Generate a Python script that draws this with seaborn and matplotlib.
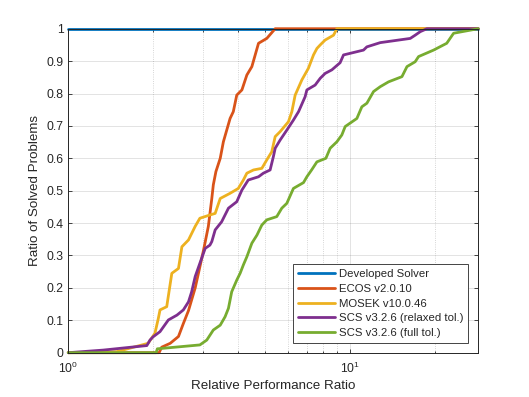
import numpy as np
import pandas as pd
import matplotlib
matplotlib.use("Agg")
import matplotlib.pyplot as plt
import matplotlib.ticker as mticker
import seaborn as sns

# performance profile data
x_max = 28.45

dev_x = [1.0, x_max]
dev_y = [1.0, 1.0]

ecos_x = [1.0, 2.10, 2.145, 2.30, 2.46, 2.56, 2.67, 2.82, 2.93, 3.02, 3.14, 3.23, 3.27,
          3.34, 3.46, 3.55, 3.75, 3.85, 3.96, 4.13, 4.30, 4.48, 4.73, 5.06, 5.42, x_max]
ecos_y = [0.0, 0.0, 0.017, 0.029, 0.05, 0.09, 0.13, 0.20, 0.265, 0.317, 0.39, 0.476, 0.518,
          0.559, 0.60, 0.651, 0.723, 0.744, 0.795, 0.811, 0.857, 0.883, 0.955, 0.97, 1.0, 1.0]

mosek_x = [1.0, 1.485, 1.92, 2.03, 2.087, 2.116, 2.235, 2.33, 2.46, 2.53, 2.67, 2.82, 2.93,
           3.18, 3.32, 3.46, 3.75, 4.01, 4.18, 4.30, 4.54, 4.86, 5.06, 5.27, 5.42, 5.64,
           6.04, 6.21, 6.38, 6.74, 7.11, 7.41, 7.62, 7.83, 8.15, 8.73, 8.97, x_max]
mosek_y = [0.0, 0.003, 0.029, 0.06, 0.106, 0.132, 0.142, 0.245, 0.26, 0.327, 0.348, 0.39, 0.415,
           0.425, 0.43, 0.476, 0.492, 0.507, 0.533, 0.554, 0.564, 0.569, 0.595, 0.62, 0.667, 0.682,
           0.713, 0.744, 0.795, 0.842, 0.878, 0.919, 0.939, 0.95, 0.965, 0.98, 1.0, 1.0]

scs_rel_x = [1.0, 1.33, 1.90, 1.95, 2.00, 2.116, 2.265, 2.43, 2.56, 2.67, 2.74, 2.82, 2.93,
             3.06, 3.18, 3.23, 3.32, 3.50, 3.70, 3.96, 4.13, 4.35, 4.73, 4.92, 5.20, 5.34,
             5.42, 5.64, 5.96, 6.29, 6.56, 6.92, 7.02, 7.51, 7.83, 8.15, 8.61, 9.21, 9.47,
             10.0, 11.15, 11.46, 12.78, 16.33, 17.0, 17.73, 18.72, x_max]
scs_rel_y = [0.0, 0.008, 0.022, 0.039, 0.049, 0.065, 0.101, 0.116, 0.132, 0.157, 0.188, 0.235, 0.276,
             0.322, 0.332, 0.343, 0.379, 0.404, 0.446, 0.466, 0.502, 0.533, 0.543, 0.554, 0.564, 0.605,
             0.631, 0.656, 0.687, 0.718, 0.744, 0.79, 0.811, 0.826, 0.847, 0.862, 0.873, 0.895, 0.919,
             0.924, 0.934, 0.944, 0.957, 0.97, 0.98, 0.991, 1.0, 1.0]

scs_full_x = [1.0, 2.05, 2.07, 2.93, 3.10, 3.27, 3.46, 3.60, 3.70, 3.80, 3.96, 4.07, 4.18,
              4.30, 4.48, 4.67, 4.86, 5.06, 5.49, 5.72, 5.96, 6.29, 6.83, 7.02, 7.31, 7.62,
              8.20, 8.49, 8.97, 9.34, 9.60, 10.56, 11.0, 11.46, 12.1, 12.78, 13.68, 15.26,
              15.9, 17.0, 17.48, 19.76, 22.0, 23.27, x_max]
scs_full_y = [0.0, 0.0, 0.012, 0.024, 0.039, 0.07, 0.085, 0.111, 0.137, 0.188, 0.224, 0.245, 0.271,
              0.296, 0.338, 0.363, 0.394, 0.41, 0.42, 0.446, 0.461, 0.507, 0.525, 0.543, 0.565, 0.589,
              0.60, 0.631, 0.651, 0.672, 0.698, 0.723, 0.759, 0.77, 0.806, 0.821, 0.836, 0.852,
              0.883, 0.898, 0.914, 0.934, 0.955, 0.986, 1.0]

solvers = ["Developed Solver", "ECOS v2.0.10", "MOSEK v10.0.46",
           "SCS v3.2.6 (relaxed tol.)", "SCS v3.2.6 (full tol.)"]
colors = ["#0072BD", "#D95319", "#EDB120", "#7E2F8E", "#77AC30"]
series = [(dev_x, dev_y), (ecos_x, ecos_y), (mosek_x, mosek_y),
          (scs_rel_x, scs_rel_y), (scs_full_x, scs_full_y)]

df = pd.concat([pd.DataFrame({"ratio": sx, "frac": sy, "solver": name})
                for name, (sx, sy) in zip(solvers, series)], ignore_index=True)

sns.set_style("ticks")
plt.rcParams["font.family"] = ["Liberation Sans", "DejaVu Sans"]
plt.rcParams["axes.edgecolor"] = "#262626"
plt.rcParams["xtick.color"] = "#262626"
plt.rcParams["ytick.color"] = "#262626"

fig, ax = plt.subplots(figsize=(5.29, 3.97), dpi=100)
fig.subplots_adjust(left=0.129, right=0.904, bottom=0.1116, top=0.9277)

sns.lineplot(data=df, x="ratio", y="frac", hue="solver", hue_order=solvers,
             palette=dict(zip(solvers, colors)), estimator=None, sort=False,
             lw=2, clip_on=False, ax=ax)

ax.set_xscale("log")
ax.set_xlim(1, x_max)
ax.set_ylim(0, 1)
ax.yaxis.set_major_locator(mticker.MultipleLocator(0.1))
ax.yaxis.set_major_formatter(mticker.FormatStrFormatter("%g"))
ax.xaxis.set_minor_locator(mticker.LogLocator(base=10, subs=np.arange(2, 10)))
ax.xaxis.set_minor_formatter(mticker.NullFormatter())

ax.grid(True, which="major", color="#262626", alpha=0.15, lw=0.6)
ax.grid(True, which="minor", axis="x", color="#262626", alpha=0.25, lw=0.6, linestyle=":")
ax.set_axisbelow(True)

ax.tick_params(which="both", direction="in", top=True, right=True, labelsize=8.7, width=0.6)
ax.tick_params(which="major", length=3)
ax.tick_params(which="minor", length=1.8)
ax.tick_params(axis="x", which="major", pad=6)
for sp in ax.spines.values():
    sp.set_linewidth(0.7)
    sp.set_visible(True)

ax.set_xlabel("Relative Performance Ratio", fontsize=9.6, color="#262626", labelpad=3)
ax.set_ylabel("Ratio of Solved Problems", fontsize=9.6, color="#262626")

handles, labels = ax.get_legend_handles_labels()
leg = ax.legend(handles, labels, loc="lower right", bbox_to_anchor=(0.976, 0.029),
                fontsize=8.2, handlelength=3.3, handletextpad=0.3, labelspacing=0.42,
                borderpad=0.45, borderaxespad=0.0, fancybox=False, framealpha=1,
                edgecolor="#262626")
leg.get_frame().set_linewidth(0.6)

plt.savefig("out.png", dpi=100)
